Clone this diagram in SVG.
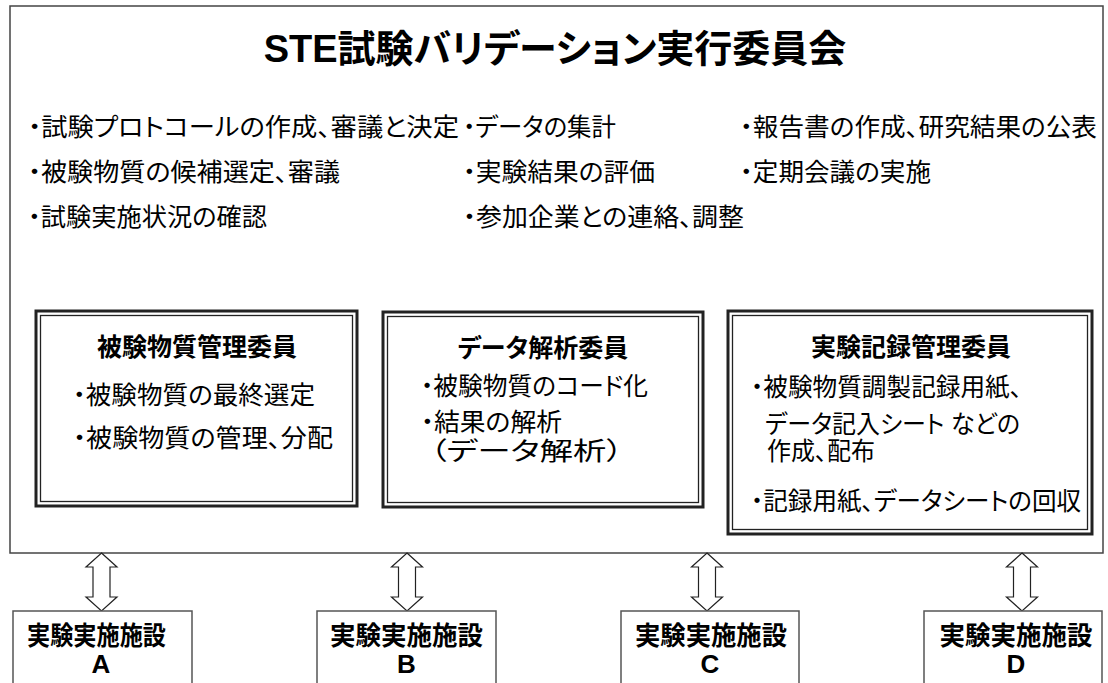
<svg xmlns="http://www.w3.org/2000/svg" width="1108" height="683" viewBox="0 0 1108 683">
<style>
.t{font-family:"Liberation Sans","Noto Sans CJK JP",sans-serif;fill:#000;font-feature-settings:"palt"}
.title{font-size:38px;font-weight:bold;text-anchor:middle}
.b{font-size:25px}
.h{font-size:25px;font-weight:bold;text-anchor:middle}
.f{font-size:26px;font-weight:bold;text-anchor:middle}
.outer{fill:#fff;stroke:#222;stroke-width:3}
.inner{fill:none;stroke:#222;stroke-width:1.3}
.fac{fill:#fff;stroke:#555;stroke-width:1.5}
.arr{fill:#fff;stroke:#222;stroke-width:1.2}
</style>
<defs>
<polygon id="darr" points="0,0 15.5,14 8.5,14 8.5,44 15.5,44 0,58 -15.5,44 -8.5,44 -8.5,14 -15.5,14"/>
</defs>
<rect width="1108" height="683" fill="#fff"/>
<g id="committee">
<rect x="10" y="6" width="1093" height="547" fill="#fff" stroke="#444" stroke-width="1.5"/>
<text class="t title" x="555" y="62">STE試験バリデーション実行委員会</text>
<text class="t b" x="28" y="136" textLength="431" lengthAdjust="spacingAndGlyphs">・試験プロトコールの作成、審議と決定</text>
<text class="t b" x="28" y="181" textLength="312" lengthAdjust="spacingAndGlyphs">・被験物質の候補選定、審議</text>
<text class="t b" x="28" y="226" textLength="239" lengthAdjust="spacingAndGlyphs">・試験実施状況の確認</text>
<text class="t b" x="463" y="136" textLength="153" lengthAdjust="spacingAndGlyphs">・データの集計</text>
<text class="t b" x="463" y="181" textLength="192" lengthAdjust="spacingAndGlyphs">・実験結果の評価</text>
<text class="t b" x="463" y="226" textLength="281" lengthAdjust="spacingAndGlyphs">・参加企業との連絡、調整</text>
<text class="t b" x="740" y="136" textLength="357" lengthAdjust="spacingAndGlyphs">・報告書の作成、研究結果の公表</text>
<text class="t b" x="740" y="181" textLength="191" lengthAdjust="spacingAndGlyphs">・定期会議の実施</text>
</g>
<g id="box1">
<rect class="outer" x="36" y="311" width="321" height="195"/>
<rect class="inner" x="40.5" y="315.5" width="312" height="186"/>
<text class="t h" x="197" y="356">被験物質管理委員</text>
<text class="t b" x="73" y="404" textLength="242" lengthAdjust="spacingAndGlyphs">・被験物質の最終選定</text>
<text class="t b" x="73" y="447" textLength="260" lengthAdjust="spacingAndGlyphs">・被験物質の管理、分配</text>
</g>
<g id="box2">
<rect class="outer" x="383" y="312" width="320" height="195"/>
<rect class="inner" x="387.5" y="316.5" width="311" height="186"/>
<text class="t h" x="543" y="357">データ解析委員</text>
<text class="t b" x="421" y="395" textLength="227" lengthAdjust="spacingAndGlyphs">・被験物質のコード化</text>
<text class="t b" x="421" y="431" textLength="141" lengthAdjust="spacingAndGlyphs">・結果の解析</text>
<text class="t b" x="430" y="460" textLength="193" lengthAdjust="spacingAndGlyphs">（データ解析）</text>
</g>
<g id="box3">
<rect class="outer" x="728" y="311" width="364" height="223"/>
<rect class="inner" x="732.5" y="315.5" width="355" height="214"/>
<text class="t h" x="911" y="356">実験記録管理委員</text>
<text class="t b" x="751" y="396" textLength="271" lengthAdjust="spacingAndGlyphs">・被験物質調製記録用紙、</text>
<text class="t b" x="765" y="433" textLength="255" lengthAdjust="spacingAndGlyphs">データ記入シート などの</text>
<text class="t b" x="767" y="460" textLength="108" lengthAdjust="spacingAndGlyphs">作成、配布</text>
<text class="t b" x="751" y="510" textLength="330" lengthAdjust="spacingAndGlyphs">・記録用紙、データシートの回収</text>
</g>
<g id="connectors">
<use href="#darr" class="arr" x="101.5" y="553"/>
<use href="#darr" class="arr" x="407" y="553"/>
<use href="#darr" class="arr" x="707" y="553"/>
<use href="#darr" class="arr" x="1022" y="553"/>
</g>
<g id="facilityA">
<rect class="fac" x="13" y="611" width="179" height="90"/>
<text class="t f" x="96.5" y="645" textLength="139" lengthAdjust="spacingAndGlyphs">実験実施施設</text>
<text class="t f" x="101" y="673">A</text>
</g>
<g id="facilityB">
<rect class="fac" x="317" y="611" width="179" height="90"/>
<text class="t f" x="406.5" y="645" textLength="153" lengthAdjust="spacingAndGlyphs">実験実施施設</text>
<text class="t f" x="406.5" y="673">B</text>
</g>
<g id="facilityC">
<rect class="fac" x="621" y="611" width="178" height="90"/>
<text class="t f" x="711" y="645" textLength="152" lengthAdjust="spacingAndGlyphs">実験実施施設</text>
<text class="t f" x="710" y="673">C</text>
</g>
<g id="facilityD">
<rect class="fac" x="924" y="611" width="178" height="90"/>
<text class="t f" x="1016" y="645" textLength="153" lengthAdjust="spacingAndGlyphs">実験実施施設</text>
<text class="t f" x="1016" y="673">D</text>
</g>
</svg>
